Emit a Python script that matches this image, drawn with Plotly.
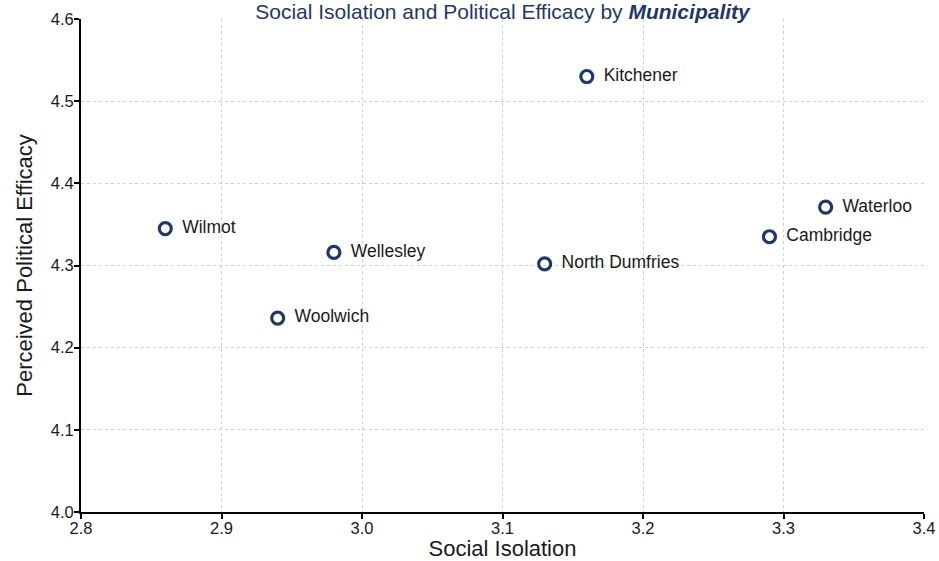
import plotly.graph_objects as go

# Municipality-level means
municipalities = [
    "Wilmot", "Wellesley", "Woolwich", "North Dumfries",
    "Kitchener", "Cambridge", "Waterloo",
]
social_isolation = [2.86, 2.98, 2.94, 3.13, 3.16, 3.29, 3.33]
political_efficacy = [4.345, 4.316, 4.236, 4.302, 4.530, 4.335, 4.371]

NAVY = "#1f3868"
FONT = "Liberation Sans, Arial, sans-serif"

fig = go.Figure(
    go.Scatter(
        x=social_isolation,
        y=political_efficacy,
        mode="markers+text",
        text=[" \u2009" + name for name in municipalities],
        textposition="middle right",
        textfont={"size": 17.5, "color": "#1a1a1a", "family": FONT},
        marker={
            "symbol": "circle-open",
            "size": 12,
            "color": NAVY,
            "line": {"width": 3.2, "color": NAVY},
        },
        hoverinfo="skip",
        cliponaxis=False,
    )
)

fig.update_layout(
    width=939,
    height=561,
    title={
        "text": "Social Isolation and Political Efficacy by <b><i>Municipality</i></b>",
        "x": 0.5,
        "xref": "paper",
        "xanchor": "center",
        "y": 0.993,
        "yanchor": "top",
        "pad": {"t": 0},
        "font": {"size": 21, "color": NAVY, "family": FONT},
        "automargin": False,
    },
    margin={"l": 81, "r": 15, "t": 19, "b": 49, "autoexpand": False},
    paper_bgcolor="white",
    plot_bgcolor="white",
    showlegend=False,
    font={"family": FONT, "size": 17, "color": "#1a1a1a"},
)

axis_common = dict(
    showline=True,
    linecolor="black",
    linewidth=2,
    ticks="outside",
    ticklen=5,
    tickwidth=1.5,
    tickcolor="black",
    showgrid=True,
    gridcolor="#d0d0d0",
    griddash="3px,3px",
    gridwidth=1,
    zeroline=False,
    tickfont={"size": 16.5, "family": FONT, "color": "#1a1a1a"},
    automargin=False,
)

fig.update_xaxes(
    range=[2.8, 3.4],
    dtick=0.1,
    tickformat=".1f",
    ticklabelstandoff=-5,
    title={"text": "Social Isolation", "font": {"size": 22, "family": FONT}, "standoff": 8},
    **axis_common,
)
fig.update_yaxes(
    range=[4.0, 4.6],
    dtick=0.1,
    tickformat=".1f",
    ticklabelstandoff=-3,
    title={"text": "Perceived Political Efficacy", "font": {"size": 22, "family": FONT}, "standoff": 12},
    **axis_common,
)

# the page body has a default 8px margin; drop it so the figure sits at 0,0
fig.write_html(
    "out.html",
    config={"displayModeBar": False},
    post_script="document.body.style.margin = '0';",
)
